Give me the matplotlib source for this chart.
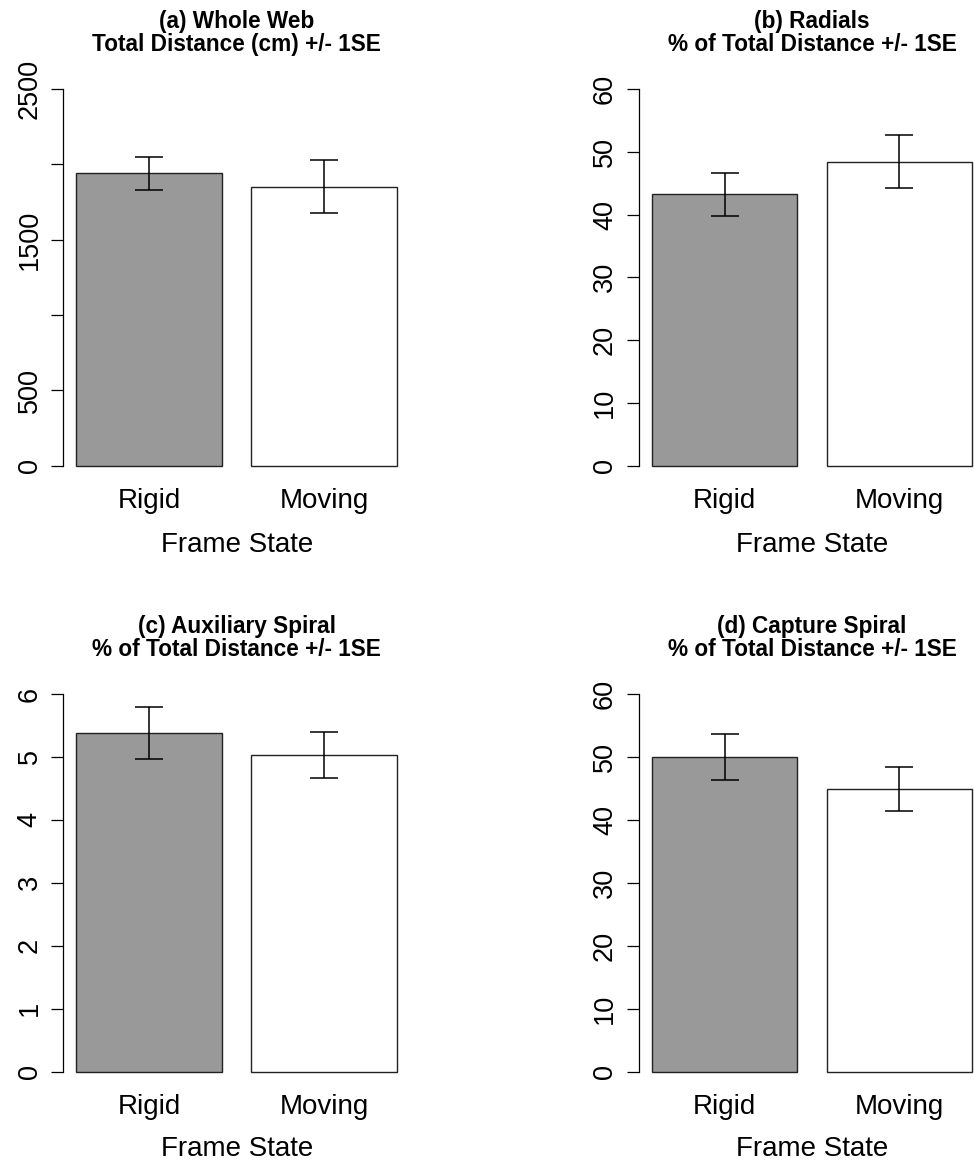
import matplotlib
matplotlib.use("Agg")
import matplotlib.pyplot as plt
import numpy as np

plt.rcParams['font.family'] = ['Liberation Sans', 'DejaVu Sans']

# data
states = ["Rigid", "Moving"]
bar_colors = ["#999999", "#ffffff"]

web_mean = [1940, 1852]
web_se = [110, 177]

radial_mean = [43.2, 48.4]
radial_se = [3.4, 4.2]

aux_mean = [5.38, 5.03]
aux_se = [0.42, 0.37]

capture_mean = [50.0, 44.9]
capture_se = [3.65, 3.55]

panels = [
    ("(a) Whole Web", "Total Distance (cm) +/- 1SE", web_mean, web_se,
     [0, 500, 1000, 1500, 2000, 2500], ["0", "500", "", "1500", "", "2500"]),
    ("(b) Radials", "% of Total Distance +/- 1SE", radial_mean, radial_se,
     [0, 10, 20, 30, 40, 50, 60], ["0", "10", "20", "30", "40", "50", "60"]),
    ("(c) Auxiliary Spiral", "% of Total Distance +/- 1SE", aux_mean, aux_se,
     [0, 1, 2, 3, 4, 5, 6], ["0", "1", "2", "3", "4", "5", "6"]),
    ("(d) Capture Spiral", "% of Total Distance +/- 1SE", capture_mean, capture_se,
     [0, 10, 20, 30, 40, 50, 60], ["0", "10", "20", "30", "40", "50", "60"]),
]

W, H = 974, 1161
fig = plt.figure(figsize=(W / 100, H / 100), dpi=100)

# axes boxes in pixels: (left, top, width, height)
boxes = [(63.5, 73.9, 346.3, 406.9), (638.9, 73.9, 346.3, 406.9),
         (63.5, 678.9, 346.3, 407.9), (638.9, 678.9, 346.3, 407.9)]
label_pads = [13.5, 13.5, 11.5, 11.5]

# R barplot style positions: width 1, space 0.2
x = np.array([0.7, 1.9])

for (t1, t2, mean, se, ticks, labels), (l, t, w, h), lp in zip(panels, boxes, label_pads):
    ax = fig.add_axes([l / W, 1 - (t + h) / H, w / W, h / H])
    ax.bar(x, mean, width=1.0, color=bar_colors, edgecolor="#222222", linewidth=1.0)
    ax.errorbar(x, mean, yerr=se, fmt="none", ecolor="black", elinewidth=1.1,
                capsize=10, capthick=1.1)

    top = ticks[-1]
    ax.set_xlim(0.112, 2.488)
    ax.set_ylim(-0.04 * top, 1.04 * top)
    ax.set_yticks(ticks)
    ax.set_yticklabels(labels)
    ax.set_xticks(x)
    ax.set_xticklabels(states, fontsize=20)

    for s in ["top", "right", "bottom"]:
        ax.spines[s].set_visible(False)
    ax.spines["left"].set_bounds(0, top)
    ax.spines["left"].set_linewidth(0.9)

    ax.tick_params(axis="x", length=0, pad=5)
    ax.tick_params(axis="y", length=8.6, width=0.9, pad=6.5, labelsize=19.5)
    plt.setp(ax.get_yticklabels(), rotation=90, va="center")

    ax.set_xlabel("Frame State", fontsize=20, labelpad=lp)

    ax.text(0.5, 1 + 45.5 / h, t1, transform=ax.transAxes, ha="center",
            va="baseline", fontsize=16.3, fontweight="bold")
    ax.text(0.5, 1 + 23 / h, t2, transform=ax.transAxes, ha="center",
            va="baseline", fontsize=16.3, fontweight="bold")

fig.savefig("out.png", dpi=100)
